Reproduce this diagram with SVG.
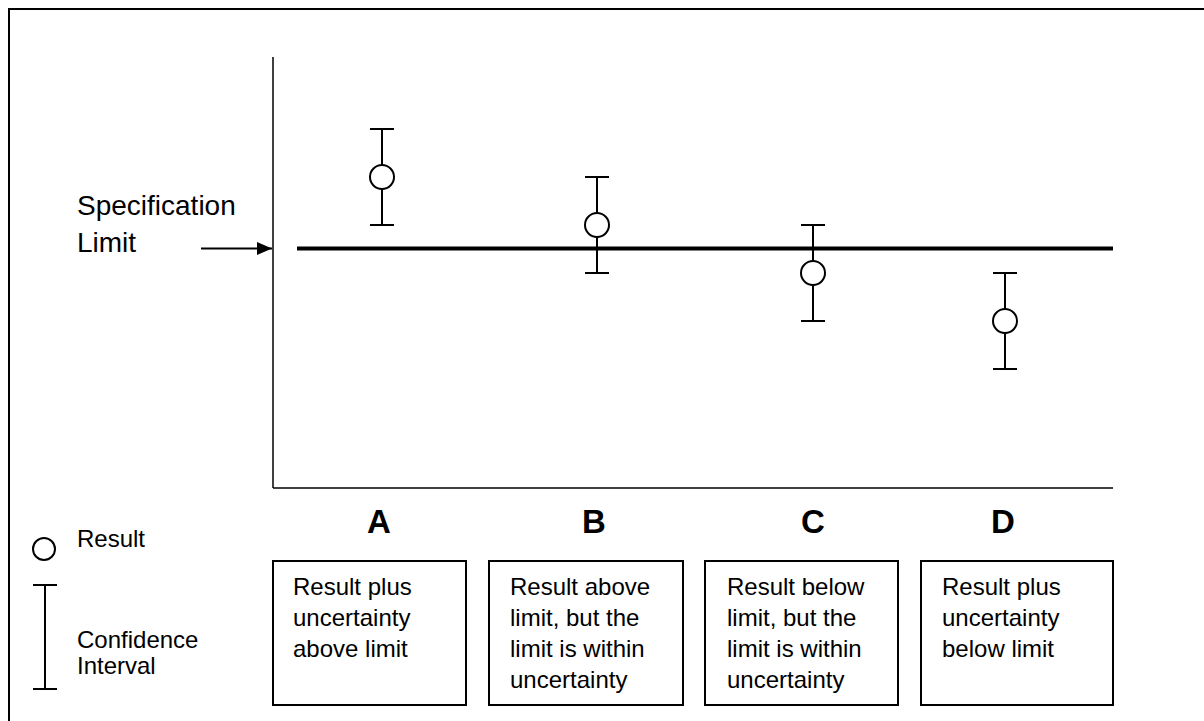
<svg xmlns="http://www.w3.org/2000/svg" width="1204" height="721" viewBox="0 0 1204 721">
<style>
text{font-family:"Liberation Sans",Arial,sans-serif;fill:#000}
.lbl{font-size:24px}
.head{font-size:33px;font-weight:bold;text-anchor:middle}
.spec{font-size:28px}
.bar{stroke:#000;stroke-width:2;fill:none}
.dot{stroke:#000;stroke-width:2;fill:#fff}
.box{stroke:#000;stroke-width:2;fill:#fff}
.axis{stroke:#000;stroke-width:1.5;fill:none}
</style>
<defs>
<marker id="arr" markerWidth="15" markerHeight="13" refX="15" refY="6.5" orient="auto" markerUnits="userSpaceOnUse">
<path d="M0,0 L15,6.5 L0,13 z" fill="#000"/>
</marker>
</defs>
<rect x="0" y="0" width="1204" height="721" fill="#fff"/>
<rect x="9" y="9" width="1200" height="720" fill="none" stroke="#000" stroke-width="2"/>

<g id="axes">
<line class="axis" x1="273" y1="57" x2="273" y2="488"/>
<line class="axis" x1="273" y1="488" x2="1113" y2="488"/>
</g>

<g id="spec-label">
<text class="spec" x="77" y="215">Specification</text>
<text class="spec" x="77" y="252">Limit</text>
</g>

<g id="connectors">
<line x1="201" y1="248.5" x2="272" y2="248.5" stroke="#000" stroke-width="2" marker-end="url(#arr)"/>
<line id="spec-limit" x1="297" y1="248.5" x2="1113" y2="248.5" stroke="#000" stroke-width="4"/>
</g>

<g id="point-A">
<path class="bar" d="M370,129 H394 M382,129 V225 M370,225 H394"/>
<circle class="dot" cx="382" cy="177" r="12"/>
</g>
<g id="point-B">
<path class="bar" d="M585,177 H609 M597,177 V273 M585,273 H609"/>
<circle class="dot" cx="597" cy="225" r="12"/>
</g>
<g id="point-C">
<path class="bar" d="M801,225 H825 M813,225 V321 M801,321 H825"/>
<circle class="dot" cx="813" cy="273" r="12"/>
</g>
<g id="point-D">
<path class="bar" d="M993,273 H1017 M1005,273 V369 M993,369 H1017"/>
<circle class="dot" cx="1005" cy="321" r="12"/>
</g>

<g id="heading-A"><text class="head" x="379" y="533">A</text></g>
<g id="heading-B"><text class="head" x="594" y="533">B</text></g>
<g id="heading-C"><text class="head" x="813" y="533">C</text></g>
<g id="heading-D"><text class="head" x="1003" y="533">D</text></g>

<g id="box-A">
<rect class="box" x="273" y="561" width="193" height="144"/>
<text class="lbl" x="293" y="595">Result plus</text>
<text class="lbl" x="293" y="626">uncertainty</text>
<text class="lbl" x="293" y="657">above limit</text>
</g>
<g id="box-B">
<rect class="box" x="489" y="561" width="194" height="144"/>
<text class="lbl" x="510" y="595">Result above</text>
<text class="lbl" x="510" y="626">limit, but the</text>
<text class="lbl" x="510" y="657">limit is within</text>
<text class="lbl" x="510" y="688">uncertainty</text>
</g>
<g id="box-C">
<rect class="box" x="705" y="561" width="193" height="144"/>
<text class="lbl" x="727" y="595">Result below</text>
<text class="lbl" x="727" y="626">limit, but the</text>
<text class="lbl" x="727" y="657">limit is within</text>
<text class="lbl" x="727" y="688">uncertainty</text>
</g>
<g id="box-D">
<rect class="box" x="921" y="561" width="192" height="144"/>
<text class="lbl" x="942" y="595">Result plus</text>
<text class="lbl" x="942" y="626">uncertainty</text>
<text class="lbl" x="942" y="657">below limit</text>
</g>

<g id="legend-result">
<circle class="dot" cx="44" cy="549" r="11"/>
<text class="lbl" x="77" y="547">Result</text>
</g>
<g id="legend-interval">
<path class="bar" d="M33,585 H57 M45,585 V689 M33,689 H57"/>
<text class="lbl" x="77" y="648">Confidence</text>
<text class="lbl" x="77" y="674">Interval</text>
</g>
</svg>
